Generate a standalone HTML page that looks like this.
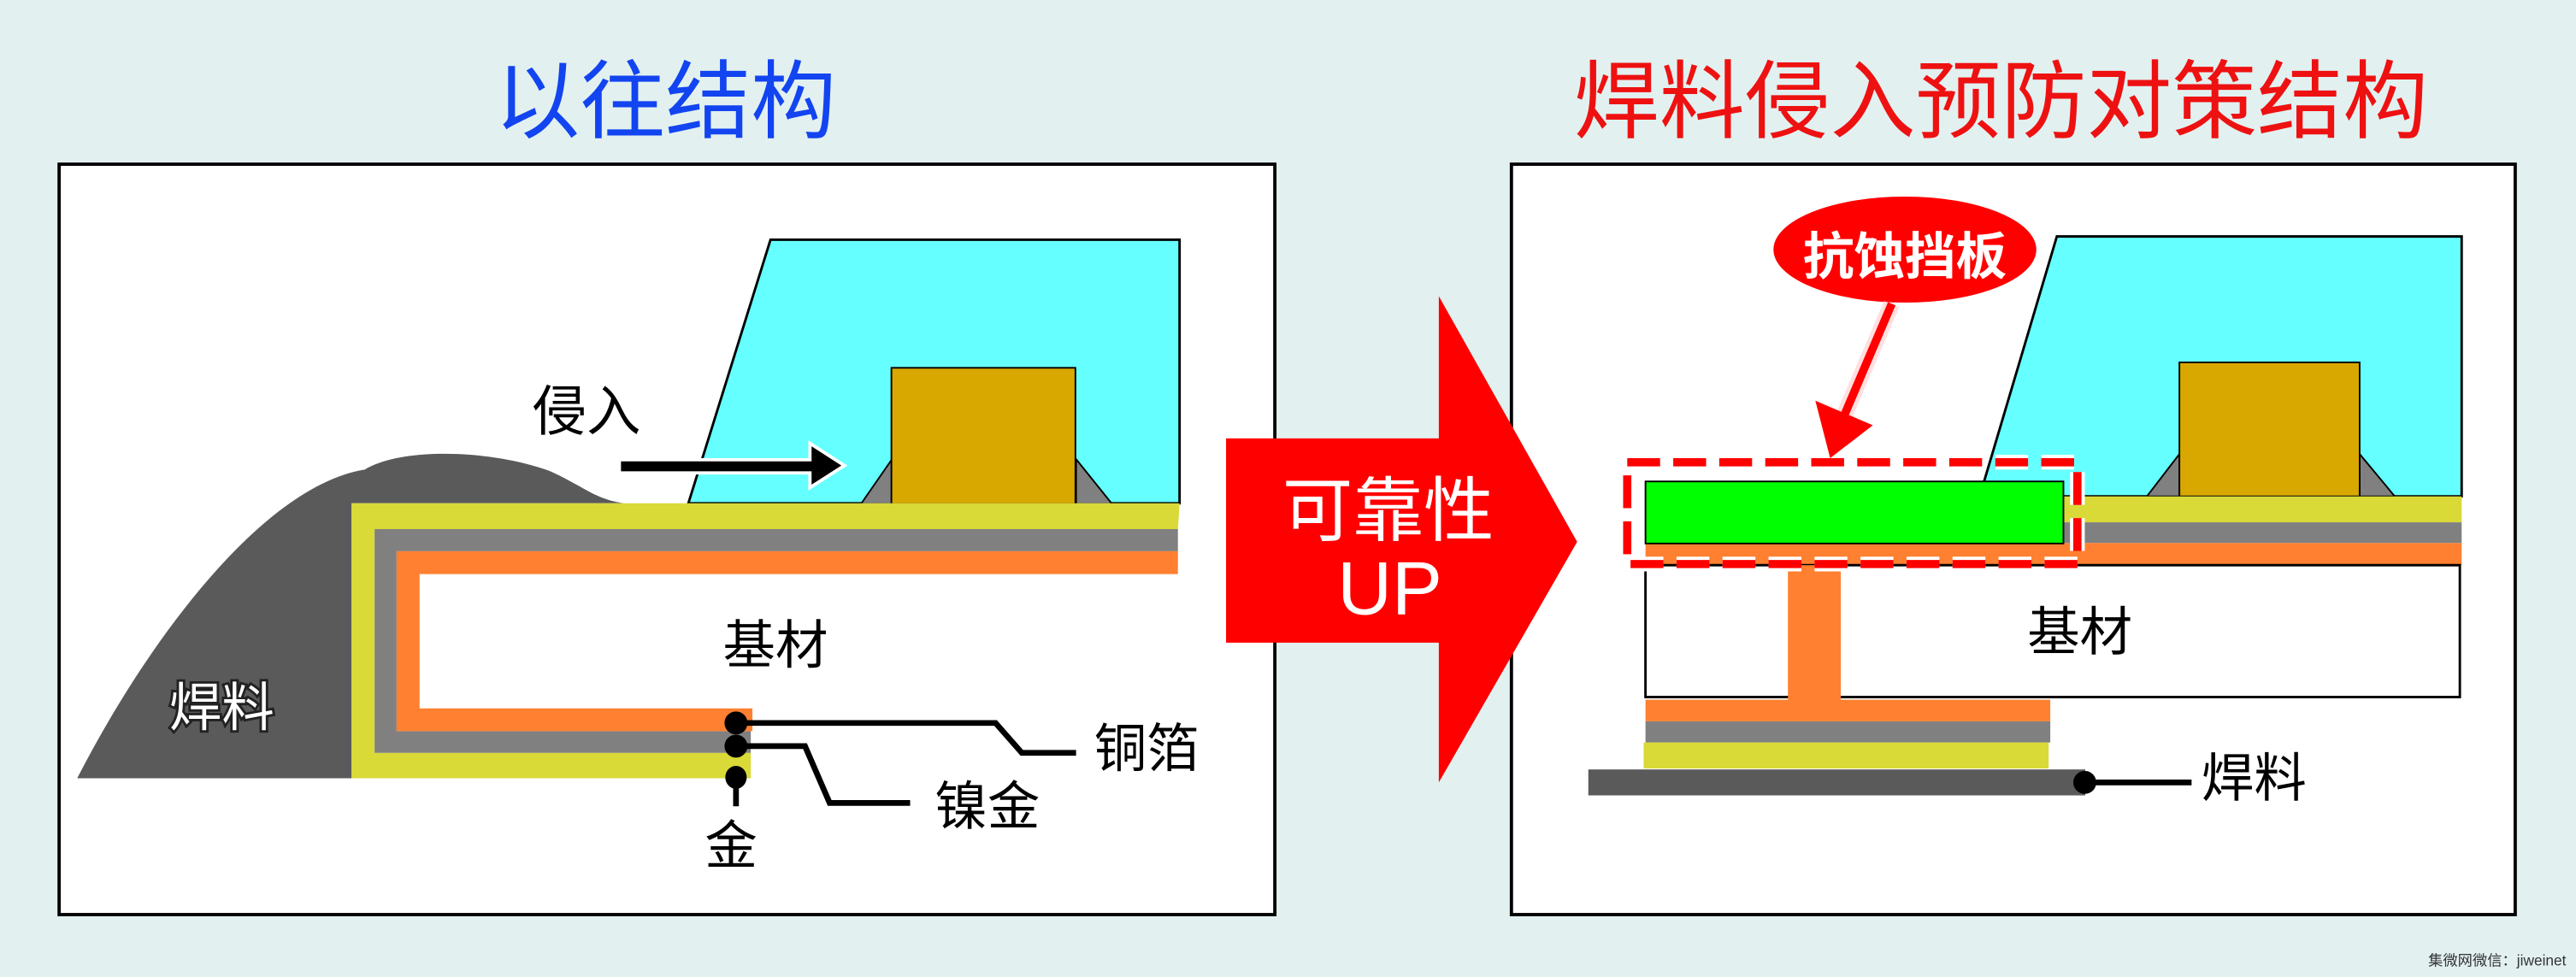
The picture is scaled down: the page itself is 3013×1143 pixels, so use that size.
<!DOCTYPE html>
<html><head><meta charset="utf-8"><style>
html,body{margin:0;padding:0;background:#e2f0f0;}
svg{display:block;}
text{font-family:"Liberation Sans","Noto Sans CJK SC",sans-serif;}
</style></head><body>
<svg width="3013" height="1143" viewBox="0 0 1568 595" preserveAspectRatio="none" xmlns="http://www.w3.org/2000/svg">
<rect width="1568" height="595" fill="#e2f0f0"/>
<text x="405" y="80" font-size="52" fill="#1244f0" text-anchor="middle">以往结构</text>
<text x="1218" y="80" font-size="52" fill="#ee1111" text-anchor="middle">焊料侵入预防对策结构</text>

<!-- LEFT PANEL -->
<rect x="36" y="100" width="740" height="457" fill="#fff" stroke="#000" stroke-width="2"/>
<polygon points="469,146 718,146 718,306.5 419,306.5" fill="#66ffff" stroke="#000" stroke-width="1.5"/>
<polygon points="524,307 543,279.6 543,307" fill="#808080" stroke="#000" stroke-width="1"/>
<polygon points="655,279.6 677,307 655,307" fill="#808080" stroke="#000" stroke-width="1"/>
<rect x="542.6" y="224" width="112" height="83" fill="#d9a800" stroke="#000" stroke-width="1"/>
<path d="M47,474 C90,390 160,296 222,286 C245,272 300,274 335,287 C355,296 362,304 380,306.5 L214,306.5 L214,474 Z" fill="#5a5a5a"/>
<path d="M214,306.5 H718 L717,322.2 H228 V458.5 H457 V474 H214 Z" fill="#d9d938"/>
<path d="M228,322.2 H717 V335.7 H241.4 V445.3 H457 V458.5 H228 Z" fill="#808080"/>
<path d="M241.4,335.7 H717 V349.6 H255.4 V431.4 H458 V445.3 H241.4 Z" fill="#ff8030"/>
<text x="135" y="442" font-size="32" fill="#fff" stroke="#222" stroke-width="3" paint-order="stroke" text-anchor="middle">焊料</text>
<text x="357" y="262" font-size="33" fill="#000" text-anchor="middle">侵入</text>
<path d="M378,284 H493" stroke="#fff" stroke-width="10"/>
<polygon points="493,270 514,283.5 493,297" fill="#000" stroke="#fff" stroke-width="2"/>
<path d="M378,284 H496" stroke="#000" stroke-width="6"/>
<text x="472" y="404" font-size="32" fill="#000" text-anchor="middle">基材</text>
<g stroke="#000" stroke-width="3.5" fill="none">
<path d="M448,440.3 H606 L622,458.5 H655"/>
<path d="M448,454.4 H490 L505,489 H554"/>
<path d="M448,473.4 V491"/>
</g>
<ellipse cx="448" cy="440.3" rx="7" ry="7" fill="#000"/>
<ellipse cx="448" cy="454.4" rx="7" ry="7" fill="#000"/>
<ellipse cx="448" cy="473.4" rx="6.5" ry="7" fill="#000"/>
<text x="698" y="467" font-size="32" fill="#000" text-anchor="middle">铜箔</text>
<text x="601" y="502" font-size="32" fill="#000" text-anchor="middle">镍金</text>
<text x="445" y="526" font-size="32" fill="#000" text-anchor="middle">金</text>

<!-- RIGHT PANEL -->
<rect x="920" y="100" width="611" height="457" fill="#fff" stroke="#000" stroke-width="2"/>
<polygon points="1252,144 1498.4,144 1498.4,302.3 1205,302.3" fill="#66ffff" stroke="#000" stroke-width="1.5"/>
<polygon points="1306.8,302.3 1326.6,276.5 1326.6,302.3" fill="#808080" stroke="#000" stroke-width="1"/>
<polygon points="1436.3,276.5 1457.7,302.3 1436.3,302.3" fill="#808080" stroke="#000" stroke-width="1"/>
<rect x="1326.6" y="220.7" width="109.7" height="81.6" fill="#d9a800" stroke="#000" stroke-width="1"/>
<rect x="1256" y="302.3" width="242.4" height="15.8" fill="#d9d938"/>
<rect x="1256" y="318.1" width="242.4" height="12.6" fill="#808080"/>
<rect x="1001.6" y="330.7" width="496.8" height="13.5" fill="#ff8030"/>
<rect x="1001.6" y="344.2" width="495.7" height="80.3" fill="#fff" stroke="#000" stroke-width="1.5"/>
<rect x="1001.6" y="293.2" width="254.4" height="37.8" fill="#00ff00" stroke="#000" stroke-width="1"/>
<rect x="1088.3" y="344.2" width="32.2" height="82" fill="#ff8030"/>
<rect x="1001.6" y="426.1" width="246.4" height="13.2" fill="#ff8030"/>
<rect x="1001.6" y="439.3" width="246.4" height="12.9" fill="#808080"/>
<rect x="1000.5" y="452.2" width="246.5" height="15.8" fill="#d9d938"/>
<rect x="966.8" y="468.6" width="302.5" height="15.8" fill="#5a5a5a"/>
<path d="M1269,476.5 H1334" stroke="#000" stroke-width="3.5"/>
<circle cx="1269" cy="476.5" r="7" fill="#000"/>
<text x="1372" y="485" font-size="32" fill="#000" text-anchor="middle">焊料</text>
<text x="1266" y="396" font-size="32" fill="#000" text-anchor="middle">基材</text>
<rect x="990.5" y="281.5" width="274" height="62" fill="none" stroke="#fff" stroke-width="9" stroke-dasharray="20 8"/>
<rect x="990.5" y="281.5" width="274" height="62" fill="none" stroke="#ff0000" stroke-width="5" stroke-dasharray="20 8"/>
<ellipse cx="1159.5" cy="152" rx="80" ry="32.3" fill="#ff0000"/>
<text x="1159.5" y="167" font-size="31" font-weight="bold" fill="#fff" text-anchor="middle">抗蚀挡板</text>
<path d="M1151.5,185 L1123,252" stroke="#ffc0c0" stroke-width="10" stroke-opacity="0.5"/>
<path d="M1151.5,185 L1123,252" stroke="#ff0000" stroke-width="5"/>
<polygon points="1105,244 1140,259 1114,279" fill="#ff0000"/>

<!-- BIG ARROW (on top) -->
<polygon points="746.3,267 875.8,267 875.8,180.4 960,330 875.8,476.5 875.8,391.4 746.3,391.4" fill="#ff0000"/>
<text x="845" y="326" font-size="43" fill="#fff" text-anchor="middle">可靠性</text>
<text x="846" y="374" font-size="46" fill="#fff" text-anchor="middle">UP</text>

<text x="1562" y="588" font-size="9" fill="#333" text-anchor="end">集微网微信：jiweinet</text>
</svg>
</body></html>
